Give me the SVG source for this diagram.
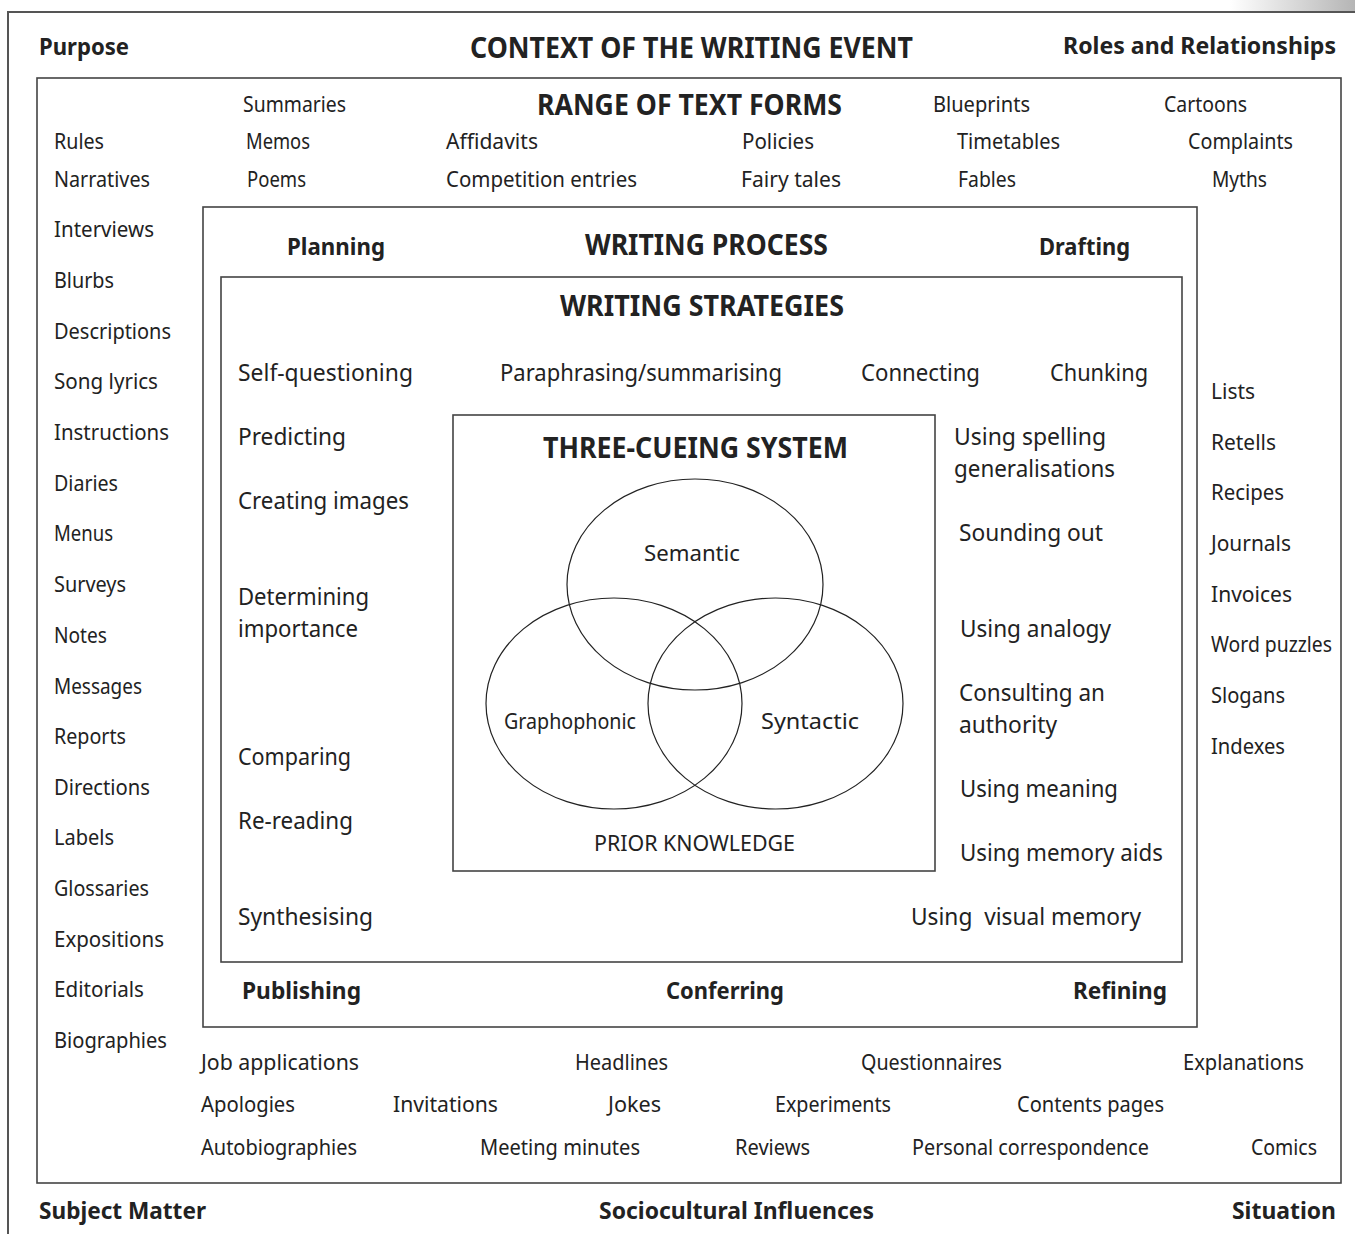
<svg xmlns="http://www.w3.org/2000/svg" width="1355" height="1234" viewBox="0 0 1355 1234">
<defs>
<linearGradient id="fade" x1="0" y1="0" x2="1" y2="0">
<stop offset="0" stop-color="#ffffff"/>
<stop offset="1" stop-color="#b5b5b5"/>
</linearGradient>
<style>
text{font-family:"Noto Sans","Open Sans","Liberation Sans",sans-serif;fill:#222}
.n{font-size:21px}
.s{font-size:24px}
.b{font-weight:bold;font-size:23px}
.h{font-weight:bold;font-size:29px}
.c{font-size:22px}
.box{fill:none;stroke:#444;stroke-width:1.6}
.ell{fill:none;stroke:#222;stroke-width:1.2}
</style>
</defs>
<rect width="1355" height="1234" fill="#fff"/>
<rect x="1230" y="0" width="125" height="11" fill="url(#fade)"/>

<g id="context">
<path d="M8 1234 V12 H1355" fill="none" stroke="#555" stroke-width="2"/>
<text class="b" x="39" y="55" textLength="90" lengthAdjust="spacingAndGlyphs">Purpose</text>
<text class="h" x="470" y="58" textLength="443" lengthAdjust="spacingAndGlyphs">CONTEXT OF THE WRITING EVENT</text>
<text class="b" x="1063" y="54" textLength="273" lengthAdjust="spacingAndGlyphs">Roles and Relationships</text>
<text class="b" x="39" y="1219" textLength="167" lengthAdjust="spacingAndGlyphs">Subject Matter</text>
<text class="b" x="599" y="1219" textLength="275" lengthAdjust="spacingAndGlyphs">Sociocultural Influences</text>
<text class="b" x="1232" y="1219" textLength="104" lengthAdjust="spacingAndGlyphs">Situation</text>
</g>

<g id="text-forms">
<rect class="box" x="37" y="78" width="1304" height="1105"/>
<text class="h" x="537" y="115" textLength="305" lengthAdjust="spacingAndGlyphs">RANGE OF TEXT FORMS</text>
<text class="n" x="243" y="112" textLength="103" lengthAdjust="spacingAndGlyphs">Summaries</text>
<text class="n" x="933" y="112" textLength="97" lengthAdjust="spacingAndGlyphs">Blueprints</text>
<text class="n" x="1164" y="112" textLength="83" lengthAdjust="spacingAndGlyphs">Cartoons</text>
<text class="n" x="54" y="149" textLength="50" lengthAdjust="spacingAndGlyphs">Rules</text>
<text class="n" x="246" y="149" textLength="64" lengthAdjust="spacingAndGlyphs">Memos</text>
<text class="n" x="446" y="149" textLength="92" lengthAdjust="spacingAndGlyphs">Affidavits</text>
<text class="n" x="742" y="149" textLength="72" lengthAdjust="spacingAndGlyphs">Policies</text>
<text class="n" x="957" y="149" textLength="103" lengthAdjust="spacingAndGlyphs">Timetables</text>
<text class="n" x="1188" y="149" textLength="105" lengthAdjust="spacingAndGlyphs">Complaints</text>
<text class="n" x="54" y="187" textLength="96" lengthAdjust="spacingAndGlyphs">Narratives</text>
<text class="n" x="247" y="187" textLength="59" lengthAdjust="spacingAndGlyphs">Poems</text>
<text class="n" x="446" y="187" textLength="191" lengthAdjust="spacingAndGlyphs">Competition entries</text>
<text class="n" x="741" y="187" textLength="100" lengthAdjust="spacingAndGlyphs">Fairy tales</text>
<text class="n" x="958" y="187" textLength="58" lengthAdjust="spacingAndGlyphs">Fables</text>
<text class="n" x="1212" y="187" textLength="55" lengthAdjust="spacingAndGlyphs">Myths</text>

<text class="n" x="54" y="237" textLength="100" lengthAdjust="spacingAndGlyphs">Interviews</text>
<text class="n" x="54" y="288" textLength="60" lengthAdjust="spacingAndGlyphs">Blurbs</text>
<text class="n" x="54" y="339" textLength="117" lengthAdjust="spacingAndGlyphs">Descriptions</text>
<text class="n" x="54" y="389" textLength="104" lengthAdjust="spacingAndGlyphs">Song lyrics</text>
<text class="n" x="54" y="440" textLength="115" lengthAdjust="spacingAndGlyphs">Instructions</text>
<text class="n" x="54" y="491" textLength="64" lengthAdjust="spacingAndGlyphs">Diaries</text>
<text class="n" x="54" y="541" textLength="59" lengthAdjust="spacingAndGlyphs">Menus</text>
<text class="n" x="54" y="592" textLength="72" lengthAdjust="spacingAndGlyphs">Surveys</text>
<text class="n" x="54" y="643" textLength="53" lengthAdjust="spacingAndGlyphs">Notes</text>
<text class="n" x="54" y="694" textLength="88" lengthAdjust="spacingAndGlyphs">Messages</text>
<text class="n" x="54" y="744" textLength="72" lengthAdjust="spacingAndGlyphs">Reports</text>
<text class="n" x="54" y="795" textLength="96" lengthAdjust="spacingAndGlyphs">Directions</text>
<text class="n" x="54" y="845" textLength="60" lengthAdjust="spacingAndGlyphs">Labels</text>
<text class="n" x="54" y="896" textLength="95" lengthAdjust="spacingAndGlyphs">Glossaries</text>
<text class="n" x="54" y="947" textLength="110" lengthAdjust="spacingAndGlyphs">Expositions</text>
<text class="n" x="54" y="997" textLength="90" lengthAdjust="spacingAndGlyphs">Editorials</text>
<text class="n" x="54" y="1048" textLength="113" lengthAdjust="spacingAndGlyphs">Biographies</text>

<text class="n" x="1211" y="399" textLength="44" lengthAdjust="spacingAndGlyphs">Lists</text>
<text class="n" x="1211" y="450" textLength="65" lengthAdjust="spacingAndGlyphs">Retells</text>
<text class="n" x="1211" y="500" textLength="73" lengthAdjust="spacingAndGlyphs">Recipes</text>
<text class="n" x="1211" y="551" textLength="80" lengthAdjust="spacingAndGlyphs">Journals</text>
<text class="n" x="1211" y="602" textLength="81" lengthAdjust="spacingAndGlyphs">Invoices</text>
<text class="n" x="1211" y="652" textLength="121" lengthAdjust="spacingAndGlyphs">Word puzzles</text>
<text class="n" x="1211" y="703" textLength="74" lengthAdjust="spacingAndGlyphs">Slogans</text>
<text class="n" x="1211" y="754" textLength="74" lengthAdjust="spacingAndGlyphs">Indexes</text>

<text class="n" x="201" y="1070" textLength="158" lengthAdjust="spacingAndGlyphs">Job applications</text>
<text class="n" x="575" y="1070" textLength="93" lengthAdjust="spacingAndGlyphs">Headlines</text>
<text class="n" x="861" y="1070" textLength="141" lengthAdjust="spacingAndGlyphs">Questionnaires</text>
<text class="n" x="1183" y="1070" textLength="121" lengthAdjust="spacingAndGlyphs">Explanations</text>
<text class="n" x="201" y="1112" textLength="94" lengthAdjust="spacingAndGlyphs">Apologies</text>
<text class="n" x="393" y="1112" textLength="105" lengthAdjust="spacingAndGlyphs">Invitations</text>
<text class="n" x="608" y="1112" textLength="53" lengthAdjust="spacingAndGlyphs">Jokes</text>
<text class="n" x="775" y="1112" textLength="116" lengthAdjust="spacingAndGlyphs">Experiments</text>
<text class="n" x="1017" y="1112" textLength="147" lengthAdjust="spacingAndGlyphs">Contents pages</text>
<text class="n" x="201" y="1155" textLength="156" lengthAdjust="spacingAndGlyphs">Autobiographies</text>
<text class="n" x="480" y="1155" textLength="160" lengthAdjust="spacingAndGlyphs">Meeting minutes</text>
<text class="n" x="735" y="1155" textLength="75" lengthAdjust="spacingAndGlyphs">Reviews</text>
<text class="n" x="912" y="1155" textLength="237" lengthAdjust="spacingAndGlyphs">Personal correspondence</text>
<text class="n" x="1251" y="1155" textLength="66" lengthAdjust="spacingAndGlyphs">Comics</text>
</g>

<g id="writing-process">
<rect class="box" x="203" y="207" width="994" height="820"/>
<text class="b" x="287" y="255" textLength="98" lengthAdjust="spacingAndGlyphs">Planning</text>
<text class="h" x="585" y="255" textLength="243" lengthAdjust="spacingAndGlyphs">WRITING PROCESS</text>
<text class="b" x="1039" y="255" textLength="91" lengthAdjust="spacingAndGlyphs">Drafting</text>
<text class="b" x="242" y="999" textLength="119" lengthAdjust="spacingAndGlyphs">Publishing</text>
<text class="b" x="666" y="999" textLength="118" lengthAdjust="spacingAndGlyphs">Conferring</text>
<text class="b" x="1073" y="999" textLength="94" lengthAdjust="spacingAndGlyphs">Refining</text>
</g>

<g id="writing-strategies">
<rect class="box" x="221" y="277" width="961" height="685"/>
<text class="h" x="560" y="316" textLength="284" lengthAdjust="spacingAndGlyphs">WRITING STRATEGIES</text>
<text class="s" x="238" y="381" textLength="175" lengthAdjust="spacingAndGlyphs">Self-questioning</text>
<text class="s" x="500" y="381" textLength="282" lengthAdjust="spacingAndGlyphs">Paraphrasing/summarising</text>
<text class="s" x="861" y="381" textLength="119" lengthAdjust="spacingAndGlyphs">Connecting</text>
<text class="s" x="1050" y="381" textLength="98" lengthAdjust="spacingAndGlyphs">Chunking</text>
<text class="s" x="238" y="445" textLength="108" lengthAdjust="spacingAndGlyphs">Predicting</text>
<text class="s" x="238" y="509" textLength="171" lengthAdjust="spacingAndGlyphs">Creating images</text>
<text class="s" x="238" y="605" textLength="131" lengthAdjust="spacingAndGlyphs">Determining</text>
<text class="s" x="238" y="637" textLength="120" lengthAdjust="spacingAndGlyphs">importance</text>
<text class="s" x="238" y="765" textLength="113" lengthAdjust="spacingAndGlyphs">Comparing</text>
<text class="s" x="238" y="829" textLength="115" lengthAdjust="spacingAndGlyphs">Re-reading</text>
<text class="s" x="238" y="925" textLength="135" lengthAdjust="spacingAndGlyphs">Synthesising</text>
<text class="s" x="954" y="445" textLength="152" lengthAdjust="spacingAndGlyphs">Using spelling</text>
<text class="s" x="954" y="477" textLength="161" lengthAdjust="spacingAndGlyphs">generalisations</text>
<text class="s" x="959" y="541" textLength="144" lengthAdjust="spacingAndGlyphs">Sounding out</text>
<text class="s" x="960" y="637" textLength="151" lengthAdjust="spacingAndGlyphs">Using analogy</text>
<text class="s" x="959" y="701" textLength="146" lengthAdjust="spacingAndGlyphs">Consulting an</text>
<text class="s" x="959" y="733" textLength="98" lengthAdjust="spacingAndGlyphs">authority</text>
<text class="s" x="960" y="797" textLength="158" lengthAdjust="spacingAndGlyphs">Using meaning</text>
<text class="s" x="960" y="861" textLength="203" lengthAdjust="spacingAndGlyphs">Using memory aids</text>
<text class="s" x="911" y="925" textLength="230" lengthAdjust="spacingAndGlyphs" xml:space="preserve">Using  visual memory</text>
</g>

<g id="three-cueing-system">
<rect class="box" x="453" y="415" width="482" height="456"/>
<text class="h" x="543" y="458" textLength="305" lengthAdjust="spacingAndGlyphs">THREE-CUEING SYSTEM</text>
<text class="c" x="594" y="851" textLength="201" lengthAdjust="spacingAndGlyphs">PRIOR KNOWLEDGE</text>
</g>

<g id="semantic">
<ellipse class="ell" cx="695" cy="584.5" rx="128" ry="105.5"/>
<text class="c" x="644" y="561" textLength="96" lengthAdjust="spacingAndGlyphs">Semantic</text>
</g>
<g id="graphophonic">
<ellipse class="ell" cx="614" cy="703.5" rx="128" ry="105.5"/>
<text class="c" x="504" y="729" textLength="132" lengthAdjust="spacingAndGlyphs">Graphophonic</text>
</g>
<g id="syntactic">
<ellipse class="ell" cx="775.5" cy="703.5" rx="127.5" ry="105.5"/>
<text class="c" x="761" y="729" textLength="98" lengthAdjust="spacingAndGlyphs">Syntactic</text>
</g>

<g id="connectors"/>
</svg>
